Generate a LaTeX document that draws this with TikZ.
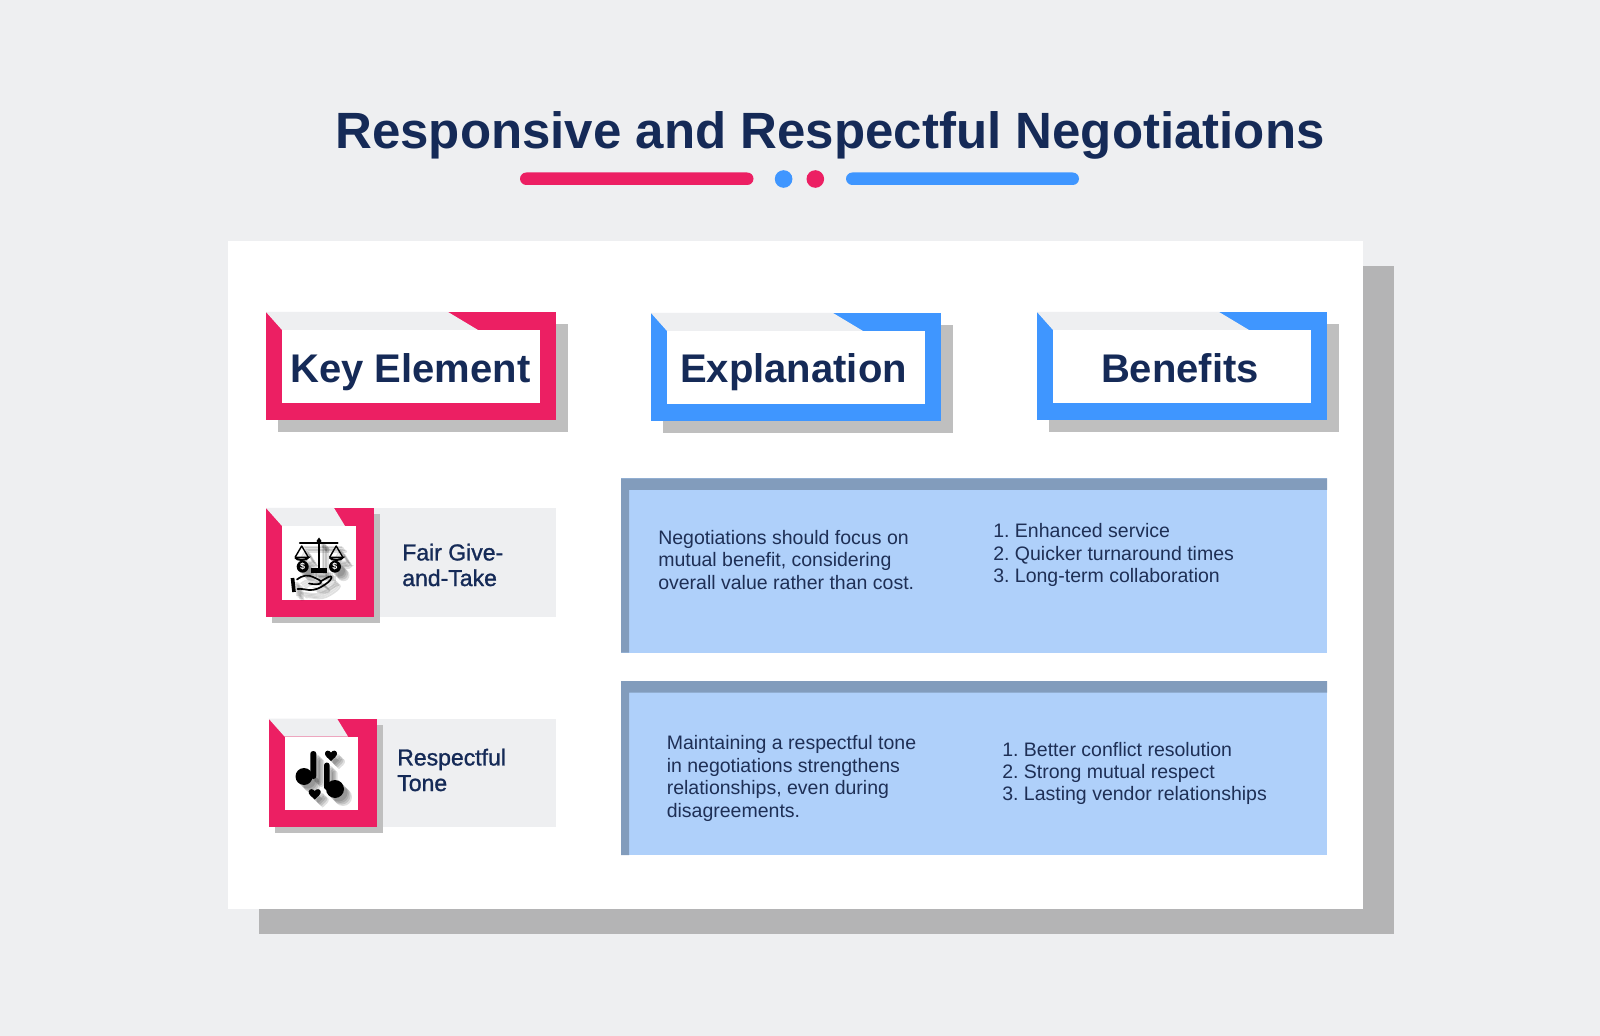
\documentclass[tikz,border=0pt]{standalone}
\usepackage{fontspec}
\setmainfont{Liberation Sans}
\newfontfamily\mediumfont[FakeBold=1.2]{Liberation Sans}
\definecolor{pagegrey}{HTML}{EEEFF1}
\definecolor{shadowgrey}{HTML}{B4B4B5}
\definecolor{frameshadow}{HTML}{BFBFBF}
\definecolor{navy}{HTML}{152A57}
\definecolor{inkblue}{HTML}{1E2F55}
\definecolor{pinkred}{HTML}{EC1F63}
\definecolor{brightblue}{HTML}{3F96FF}
\definecolor{cellblue}{HTML}{AFD0FA}
\definecolor{celledge}{HTML}{829CBC}
% sizes are given in pixels of the 1600 wide page
\newcommand{\pxsize}[2]{\fontsize{\dimexpr#1pt*7113/10000\relax}{\dimexpr#2pt*7113/10000\relax}\selectfont}
\newcommand{\drawframe}[9]{%
  \fill[frameshadow] (#1+#7,#2+#7) rectangle (#3+#7,#4+#7);
  \fill[#5] (#1,#2) rectangle (#3,#4);
  \fill[white] (#1+16,#2+18) rectangle (#9,#4-17);
  \fill[pagegrey] (#1,#2) -- (#1+16,#2+18) -- (#8,#2+18) -- (#6,#2) -- cycle;
}
\newcommand{\drawscales}[1]{%
  \draw[#1,line width=1.8pt] (319,540) -- (319,569);
  \fill[#1] (310.7,567.7) rectangle (327.3,572.7);
  \fill[#1] (319,537.5) -- (321.5,541) -- (319,544.5) -- (316.5,541) -- cycle;
  \draw[#1,line width=1.7pt,line cap=round] (300,543) -- (337.5,543);
  \draw[#1,line width=1pt,line join=round] (295,557.5) -- (301.7,546) -- (308.5,557.5);
  \draw[#1,line width=1pt,line join=round] (329.5,557.5) -- (336.2,546) -- (343,557.5);
  \draw[#1,line width=1.2pt] (295,557.5) -- (308.5,557.5) .. controls (307.5,561) and (296,561) .. (295,557.5);
  \draw[#1,line width=1.2pt] (329.5,557.5) -- (343,557.5) .. controls (342,561) and (330.5,561) .. (329.5,557.5);
  \fill[#1] (302.7,566.7) circle (6);
  \fill[#1] (335,566.7) circle (6);
  \draw[#1,line width=2.6pt] (292.5,578) -- (294,592);
  \draw[#1,line width=1.2pt,line join=round,line cap=round] (297,579.5) .. controls (303,575) and (308,574.5) .. (313,577)
    .. controls (317,579) and (321,580) .. (321,582.5) .. controls (320,585) and (314,584.5) .. (309,583.5);
  \draw[#1,line width=1.2pt,line join=round,line cap=round] (320.5,581.5) .. controls (325,579) and (329,576) .. (331,576.5)
    .. controls (333,578) and (329,582) .. (325,584.5) .. controls (320,588) and (315,590.5) .. (309,590)
    .. controls (305,589.5) and (301,588.5) .. (297.5,589);
}
\newcommand{\drawheart}[3]{%
  \fill[#1] (#2,#3+6) .. controls (#2-3,#3+3) and (#2-6.5,#3+1) .. (#2-6,#3-2)
    .. controls (#2-5.5,#3-5) and (#2-1.5,#3-5) .. (#2,#3-2.5)
    .. controls (#2+1.5,#3-5) and (#2+5.5,#3-5) .. (#2+6,#3-2)
    .. controls (#2+6.5,#3+1) and (#2+3,#3+3) .. (#2,#3+6) -- cycle;
}
\newcommand{\drawnotes}[1]{%
  \fill[#1,rounded corners=2pt] (310.3,751) rectangle (316.3,779);
  \fill[#1] (304,776.5) circle (8.5);
  \fill[#1,rounded corners=2pt] (324,762.5) rectangle (329.7,790);
  \fill[#1] (335,789) circle (9);
  \drawheart{#1}{331}{755}
  \drawheart{#1}{314.7}{793.5}
}
\begin{document}
\begin{tikzpicture}[x=0.025cm,y=-0.025cm]
  \tikzstyle{title} = [font=\pxsize{51}{56}\bfseries, text=navy]
  \tikzstyle{heading} = [font=\pxsize{40}{46}\bfseries, text=navy, anchor=base]
  \tikzstyle{rowlabel} = [font=\mediumfont\pxsize{23}{25.6}, text=navy, align=left, anchor=west, inner sep=0pt]
  \tikzstyle{celltext} = [font=\pxsize{19.5}{22.4}\frenchspacing, text=inkblue, align=left, anchor=west, inner sep=0pt]
  \tikzstyle{iconshade} = [opacity=0.12]
  \useasboundingbox (0,0) rectangle (1600,1036);
  \fill[pagegrey] (0,0) rectangle (1600,1036);
  % title
  \node[title] (heading) at (830,135) {Responsive and Respectful Negotiations};
  \fill[pinkred, rounded corners=4.5pt] (520,172.5) rectangle (753.5,185);
  \fill[brightblue] (783.6,179) circle (8.8);
  \fill[pinkred] (815.3,179) circle (8.8);
  \fill[brightblue, rounded corners=4.5pt] (846,172.5) rectangle (1079,185);
  % panel
  \fill[shadowgrey] (258.5,266) rectangle (1394,934);
  \fill[white] (227.5,241) rectangle (1363,909);
  % column heads
  \drawframe{266}{312}{556}{420}{pinkred}{448}{12}{478}{540}
  \drawframe{651}{313}{941}{421}{brightblue}{833}{12}{863}{925}
  \drawframe{1037}{312}{1327}{420}{brightblue}{1219}{12}{1249}{1311}
  \node[heading] (keyelement) at (410.5,382.5) {Key Element};
  \node[heading] (explanation) at (793.5,383) {Explanation};
  \node[heading] (benefits) at (1180,382.5) {Benefits};
  % first row
  \fill[pagegrey] (374,508) rectangle (556,617);
  \drawframe{266}{508}{374}{617}{pinkred}{334}{6}{345}{355.7}
  \foreach \d in {4,5.5,7,8.5} {
    \begin{scope}[shift={(\d,\d)}, iconshade]
      \drawscales{black}
    \end{scope}
  }
  \drawscales{black}
  \node[font=\bfseries\pxsize{9}{9}, text=white, inner sep=0pt] (coinleft) at (302.7,566.7) {\$};
  \node[font=\bfseries\pxsize{9}{9}, text=white, inner sep=0pt] (coinright) at (335,566.7) {\$};
  \node[rowlabel] (fairgive) at (402,565) {Fair Give-\\and-Take};
  \fill[cellblue] (621,478.5) rectangle (1327,652.5);
  \fill[celledge] (621,478.5) rectangle (1327,490) (621,478.5) rectangle (629,652.5);
  \node[celltext] (fairtext) at (658,560) {Negotiations should focus on\\mutual benefit, considering\\overall value rather than cost.};
  \node[celltext] (fairlist) at (993,555) {1. Enhanced service\\2. Quicker turnaround times\\3. Long-term collaboration};
  % second row
  \fill[pagegrey] (376,718.5) rectangle (556,827);
  \drawframe{268.5}{718.5}{377}{827}{pinkred}{337}{6}{348}{358}
  \foreach \d in {3.5,5,6.5,8} {
    \begin{scope}[shift={(\d,\d)}, iconshade]
      \drawnotes{black}
    \end{scope}
  }
  \drawnotes{black}
  \node[rowlabel] (resptone) at (397,770) {Respectful\\Tone};
  \fill[cellblue] (621,681) rectangle (1327,855);
  \fill[celledge] (621,681) rectangle (1327,692.5) (621,681) rectangle (629,855);
  \node[celltext] (resptext) at (666.5,778.5) {Maintaining a respectful tone\\in negotiations strengthens\\relationships, even during\\disagreements.};
  \node[celltext] (resplist) at (1002,773.5) {1. Better conflict resolution\\2. Strong mutual respect\\3. Lasting vendor relationships};
\end{tikzpicture}
\end{document}
